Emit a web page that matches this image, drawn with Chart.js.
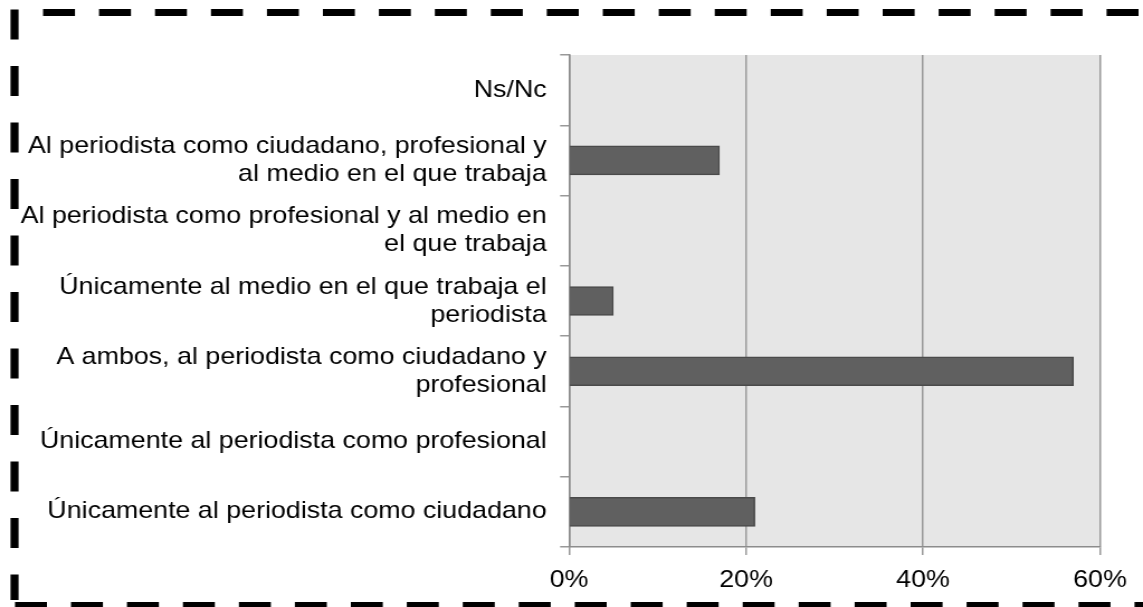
<!DOCTYPE html>
<html>
<head>
<meta charset="utf-8">
<script src="https://cdn.jsdelivr.net/npm/chart.js@4/dist/chart.umd.min.js"></script>
<style>
    html, body { margin: 0; padding: 0; background: #fff; overflow: hidden; }
    /* the reference is a bit wider than tall in its letters, so stretch horizontally */
    #wrap { width: 1023px; height: 607px; transform: scaleX(1.1173); transform-origin: 0 0; }
</style>
</head>
<body>
<div id="wrap"><canvas id="answersChart"></canvas></div>
<script>
const categories = [
    'Ns/Nc',
    ['Al periodista como ciudadano, profesional y', 'al medio en el que trabaja'],
    ['Al periodista como profesional y al medio en', 'el que trabaja'],
    ['Únicamente al medio en el que trabaja el', 'periodista'],
    ['A ambos, al periodista como ciudadano y', 'profesional'],
    'Únicamente al periodista como profesional',
    'Únicamente al periodista como ciudadano'
];
const percentages = [0, 17, 0, 5, 57, 0, 21];
const xTickLabels = ['0%', '20%', '40%', '60%'];

const FONT = '"Liberation Sans", Arial, sans-serif';

// grey plot background + dashed frame around the whole picture
const frame = {
    id: 'frame',
    beforeDraw(chart) {
        const { ctx, chartArea: a } = chart;
        ctx.save();
        ctx.fillStyle = '#e6e6e6';
        ctx.fillRect(a.left, a.top, a.right - a.left, a.bottom - a.top);
        ctx.restore();
    },
    afterDraw(chart) {
        const ctx = chart.ctx;
        ctx.save();
        ctx.strokeStyle = '#000';
        // top
        ctx.lineWidth = 7;
        ctx.setLineDash([28.6, 21.5]);
        ctx.beginPath();
        ctx.moveTo(38.5, 12.5);
        ctx.lineTo(1030, 12.5);
        ctx.stroke();
        // bottom
        ctx.beginPath();
        ctx.moveTo(13.4, 605.5);
        ctx.lineTo(1030, 605.5);
        ctx.stroke();
        // left
        ctx.lineWidth = 7.2;
        ctx.setLineDash([30, 26.5]);
        ctx.beginPath();
        ctx.moveTo(13, 9.5);
        ctx.lineTo(13, 600);
        ctx.stroke();
        ctx.restore();
    }
};

const ctx = document.getElementById('answersChart').getContext('2d');
new Chart(ctx, {
    type: 'bar',
    data: {
        labels: categories,
        datasets: [{
            data: percentages,
            backgroundColor: '#606060',
            borderColor: '#4a4a4a',
            borderWidth: 1.5,
            borderSkipped: 'start',
            barThickness: 29
        }]
    },
    options: {
        indexAxis: 'y',
        responsive: true,
        maintainAspectRatio: false,
        animation: false,
        layout: { padding: { top: 55, right: 38.5, left: 0, bottom: 0 } },
        plugins: { legend: { display: false }, tooltip: { enabled: false } },
        scales: {
            x: {
                min: 0,
                max: 60,
                ticks: {
                    stepSize: 20,
                    color: '#000',
                    padding: 11,
                    font: { family: FONT, size: 24 },
                    callback: (v, i) => xTickLabels[i]
                },
                grid: { color: '#999', lineWidth: 1.5, tickLength: 8 },
                border: { color: '#8c8c8c', width: 1.5 },
                afterFit: (scale) => { scale.height = 60; }
            },
            y: {
                ticks: {
                    color: '#000',
                    padding: 12,
                    font: { family: FONT, size: 24, lineHeight: 1.1667 }
                },
                grid: { drawOnChartArea: false, color: '#999', lineWidth: 1.5, tickLength: 8, offset: true },
                border: { color: '#8c8c8c', width: 1.5 },
                afterFit: (scale) => { scale.width = 509.3; }
            }
        }
    },
    plugins: [frame]
});
</script>
</body>
</html>
